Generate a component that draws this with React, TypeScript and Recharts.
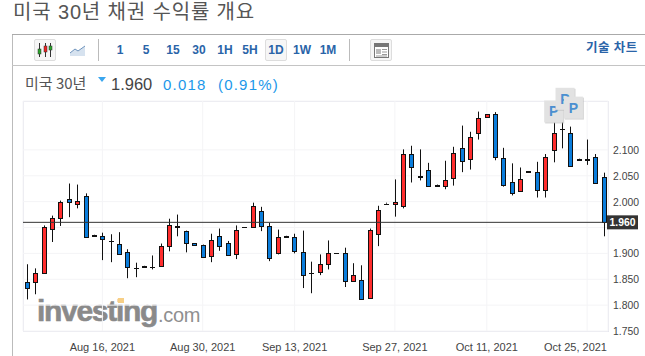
import React from 'react';
import { ComposedChart, Bar, XAxis, YAxis, CartesianGrid, ReferenceLine, ReferenceDot } from 'recharts';

const dates = [
    'Aug 5, 2021', 'Aug 6, 2021', 'Aug 8, 2021', 'Aug 9, 2021', 'Aug 10, 2021', 'Aug 11, 2021', 'Aug 12, 2021', 'Aug 13, 2021', 'Aug 15, 2021', 'Aug 16, 2021',
    'Aug 17, 2021', 'Aug 18, 2021', 'Aug 19, 2021', 'Aug 20, 2021', 'Aug 22, 2021', 'Aug 23, 2021', 'Aug 24, 2021', 'Aug 25, 2021', 'Aug 26, 2021', 'Aug 27, 2021',
    'Aug 29, 2021', 'Aug 30, 2021', 'Aug 31, 2021', 'Sep 1, 2021', 'Sep 2, 2021', 'Sep 3, 2021', 'Sep 5, 2021', 'Sep 7, 2021', 'Sep 8, 2021', 'Sep 9, 2021',
    'Sep 10, 2021', 'Sep 12, 2021', 'Sep 13, 2021', 'Sep 14, 2021', 'Sep 15, 2021', 'Sep 16, 2021', 'Sep 17, 2021', 'Sep 19, 2021', 'Sep 20, 2021', 'Sep 21, 2021',
    'Sep 22, 2021', 'Sep 23, 2021', 'Sep 24, 2021', 'Sep 26, 2021', 'Sep 27, 2021', 'Sep 28, 2021', 'Sep 29, 2021', 'Sep 30, 2021', 'Oct 1, 2021', 'Oct 3, 2021',
    'Oct 4, 2021', 'Oct 5, 2021', 'Oct 6, 2021', 'Oct 7, 2021', 'Oct 8, 2021', 'Oct 11, 2021', 'Oct 12, 2021', 'Oct 13, 2021', 'Oct 14, 2021', 'Oct 15, 2021',
    'Oct 17, 2021', 'Oct 18, 2021', 'Oct 19, 2021', 'Oct 20, 2021', 'Oct 21, 2021', 'Oct 22, 2021', 'Oct 24, 2021', 'Oct 25, 2021', 'Oct 26, 2021', 'Oct 27, 2021',
];

const opens = [
    1.845, 1.845, 1.863, 1.948, 1.969, 2.005, 1.996, 2.011, 1.936, 1.934,
    1.924, 1.919, 1.903, 1.871, 1.876, 1.873, 1.876, 1.915, 1.952, 1.944,
    1.920, 1.917, 1.895, 1.934, 1.920, 1.899, 1.951, 1.951, 1.982, 1.953,
    1.901, 1.934, 1.932, 1.903, 1.863, 1.864, 1.880, 1.901, 1.901, 1.847,
    1.849, 1.813, 1.938, 1.996, 1.996, 1.992, 2.092, 2.049, 2.061, 2.033,
    2.030, 2.046, 2.104, 2.083, 2.133, 2.164, 2.169, 2.085, 2.038, 2.021,
    2.059, 2.058, 2.023, 2.100, 2.141, 2.133, 2.083, 2.083, 2.087, 2.048,
];
const closes = [
    1.834, 1.863, 1.951, 1.969, 1.999, 1.999, 2.001, 1.932, 1.935, 1.928,
    1.924, 1.899, 1.874, 1.871, 1.875, 1.873, 1.914, 1.955, 1.951, 1.920,
    1.917, 1.893, 1.926, 1.915, 1.897, 1.946, 1.951, 1.992, 1.953, 1.891,
    1.932, 1.933, 1.905, 1.859, 1.863, 1.880, 1.901, 1.901, 1.847, 1.859,
    1.812, 1.946, 1.984, 1.996, 1.999, 2.092, 2.067, 2.048, 2.030, 2.032,
    2.042, 2.094, 2.079, 2.125, 2.162, 2.169, 2.087, 2.033, 2.017, 2.044,
    2.058, 2.023, 2.087, 2.133, 2.141, 2.069, 2.082, 2.082, 2.036, 1.960,
];
const highs = [
    1.879, 1.871, 1.954, 1.973, 2.002, 2.035, 2.033, 2.016, 1.936, 1.940,
    1.937, 1.941, 1.908, 1.882, 1.876, 1.896, 1.919, 1.967, 1.975, 1.944,
    1.920, 1.917, 1.938, 1.948, 1.924, 1.954, 1.951, 1.998, 1.990, 1.959,
    1.946, 1.934, 1.938, 1.944, 1.884, 1.898, 1.925, 1.901, 1.911, 1.881,
    1.877, 1.948, 1.992, 1.998, 2.043, 2.101, 2.108, 2.101, 2.075, 2.033,
    2.079, 2.106, 2.147, 2.135, 2.174, 2.169, 2.173, 2.104, 2.074, 2.066,
    2.059, 2.077, 2.092, 2.153, 2.164, 2.145, 2.083, 2.120, 2.092, 2.056,
];
const lows = [
    1.811, 1.821, 1.862, 1.922, 1.953, 1.970, 1.987, 1.931, 1.935, 1.887,
    1.883, 1.899, 1.852, 1.854, 1.875, 1.869, 1.875, 1.904, 1.933, 1.902,
    1.917, 1.891, 1.883, 1.905, 1.897, 1.889, 1.951, 1.951, 1.943, 1.885,
    1.898, 1.933, 1.900, 1.833, 1.823, 1.858, 1.869, 1.901, 1.835, 1.846,
    1.810, 1.812, 1.914, 1.996, 1.971, 1.987, 2.037, 2.041, 2.030, 2.032,
    2.024, 2.031, 2.057, 2.062, 2.120, 2.164, 2.080, 2.029, 2.012, 2.021,
    2.058, 2.008, 2.008, 2.076, 2.103, 2.068, 2.082, 2.071, 2.036, 1.933,
];

const dateTicks = ['Aug 16, 2021', 'Aug 30, 2021', 'Sep 13, 2021', 'Sep 27, 2021', 'Oct 11, 2021', 'Oct 25, 2021'];
const priceTicks = [1.75, 1.8, 1.85, 1.9, 1.95, 2.0, 2.05, 2.1];
const visiblePriceLabels = [1.75, 1.8, 1.85, 1.9, 2.0, 2.05, 2.1];
const lastPrice = 1.96;
const intervals = ['1', '5', '15', '30', '1H', '5H', '1D', '1W', '1M'];
const intervalX = [120, 146, 173, 199, 225, 250, 276, 302, 328];
const eventDates = ['Oct 20, 2021', 'Oct 21, 2021', 'Oct 22, 2021'];
const eventPrices = [2.153, 2.164, 2.145];

const data = dates.map((date, i) => ({
    date,
    open: opens[i],
    close: closes[i],
    high: highs[i],
    low: lows[i],
}));

const UP = '#ff2d2d';
const DOWN = '#0a7ddc';
const GRID = '#f4f4f6';
const BLUE_TEXT = '#2a64a8';
const SANS = '"Liberation Sans", Arial, sans-serif';
const KR = '"Noto Sans CJK KR", sans-serif';

function Candle(props: any) {
    const { x, y, width, height, payload } = props;
    const { open, close, high, low } = payload;
    const range = high - low;
    const toY = (v: number) => (range === 0 ? y : y + ((high - v) / range) * height);
    const cx = Math.floor(x + width / 2) + 0.5;
    const top = Math.max(open, close);
    const bottom = Math.min(open, close);
    const y1 = Math.round(toY(top));
    const y2 = Math.round(toY(bottom));
    const hw = 2;
    let body;
    if (open === close) {
        body = <rect x={cx - 2.5} y={y1} width={5} height={1} fill="#111" />;
    } else if (y2 - y1 < 2) {
        body = <rect x={cx - 2.5} y={y1} width={5} height={2} fill="#111" />;
    } else {
        body = (
            <rect
                x={cx - hw}
                y={y1 + 0.5}
                width={hw * 2}
                height={y2 - y1}
                fill={close > open ? UP : DOWN}
                stroke="#111"
                strokeWidth={1}
            />
        );
    }
    return (
        <g>
            {range > 0 && <line x1={cx} x2={cx} y1={y} y2={y + height} stroke="#111" strokeWidth={1} />}
            {body}
        </g>
    );
}

function DateTick(props: any) {
    const { x, y, payload } = props;
    // last label would run off the plot, investing pulls it back in
    const last = payload.value === dateTicks[dateTicks.length - 1];
    return (
        <text x={last ? 607 : x} y={y} dy={4} textAnchor={last ? 'end' : 'middle'} fontSize={11} fontFamily={SANS} fill="#444">
            {payload.value}
        </text>
    );
}

function PriceTick(props: any) {
    const { x, y, payload } = props;
    if (!visiblePriceLabels.includes(payload.value)) return null;
    return (
        <text x={x} y={y} dy={4} dx={-6} fontSize={10.4} fontFamily={SANS} fill="#444">
            {payload.value.toFixed(3)}
        </text>
    );
}

function LastPriceLabel(props: any) {
    const { viewBox } = props;
    const right = viewBox.x + viewBox.width;
    return (
        <g>
            <rect x={right - 1} y={viewBox.y - 7} width={31} height={14} fill="#333" />
            <text x={right + 14.5} y={viewBox.y + 4} textAnchor="middle" fontSize={10.4} fontWeight="bold" fontFamily={SANS} fill="#fff">
                {lastPrice.toFixed(3)}
            </text>
        </g>
    );
}

function EventFlag(dx: number, dy: number) {
    return function Flag(props: any) {
        const { cx, cy } = props;
        const x = cx + dx;
        const y = cy + dy;
        return (
            <g>
                <rect x={x - 8.5} y={y + 1} width={19} height={22} fill="#bbb" fillOpacity={0.6} />
                <rect x={x - 9.5} y={y} width={19} height={22} fill="#e2e2e2" />
                <text x={x} y={y + 16} textAnchor="middle" fontSize={14} fontWeight="bold" fontFamily={SANS} fill="#4a8fd0">
                    P
                </text>
            </g>
        );
    };
}

const flagShapes = [EventFlag(0, -22), EventFlag(3, -29), EventFlag(3, -30)];

function Txt({ x, y, size, color, font = SANS, weight = 'normal', spacing = 0, center = false, stroke, children }: any) {
    return (
        <div
            style={{
                position: 'absolute',
                left: x,
                top: y,
                fontSize: size,
                lineHeight: '1',
                color,
                fontFamily: font,
                fontWeight: weight,
                letterSpacing: spacing,
                whiteSpace: 'nowrap',
                WebkitTextStroke: stroke,
                transform: center ? 'translateX(-50%)' : undefined,
            }}
        >
            {children}
        </div>
    );
}

function Box({ x, y, w, h, bg, border, radius = 0 }: any) {
    return (
        <div
            style={{
                position: 'absolute',
                left: x,
                top: y,
                width: w,
                height: h,
                background: bg,
                border,
                borderRadius: radius,
                boxSizing: 'border-box',
            }}
        />
    );
}

function Toolbar() {
    return (
        <>
            <Box x={12} y={34} w={1} h={322} bg="#bbb" />
            <Box x={12} y={34} w={633} h={1} bg="#aaa" />
            <Box x={12} y={65} w={633} h={1} bg="#c4c4c4" />
            <Box x={34} y={39} w={22} h={22} bg="#f6f6f6" border="1px solid #ddd" radius={2} />
            <svg style={{ position: 'absolute', left: 36, top: 41 }} width={18} height={18}>
                <path d="M3.5 2v14M9.5 2v14M14.5 2v14" stroke="#333" />
                <rect x={2} y={8} width={3} height={5} fill="#2aa52a" stroke="#333" strokeWidth={0.5} />
                <rect x={8} y={5} width={3} height={6} fill="#e22" stroke="#333" strokeWidth={0.5} />
                <rect x={13} y={5} width={3} height={4} fill="#2aa52a" stroke="#333" strokeWidth={0.5} />
            </svg>
            <svg style={{ position: 'absolute', left: 69, top: 44 }} width={17} height={13}>
                <path d="M1 9L6 5L9 7L16 2V12H1Z" fill="#d6e2ef" />
                <path d="M1 9L6 5L9 7L16 2" stroke="#6f94bd" fill="none" />
            </svg>
            <Box x={98} y={39} w={1} h={22} bg="#bbb" />
            <Box x={265} y={39} w={22} h={22} bg="#f6f6f6" border="1px solid #ddd" radius={2} />
            {intervals.map((label, i) => (
                <Txt key={label} x={intervalX[i]} y={44} size={12} weight="bold" color={BLUE_TEXT} center>
                    {label}
                </Txt>
            ))}
            <Box x={349} y={39} w={1} h={22} bg="#bbb" />
            <Box x={370} y={39} w={22} h={22} bg="#f6f6f6" border="1px solid #ddd" radius={2} />
            <svg style={{ position: 'absolute', left: 374, top: 43 }} width={15} height={15}>
                <rect x={0.5} y={0.5} width={14} height={14} fill="#fff" stroke="#777" />
                <rect x={1} y={1} width={13} height={3} fill="#777" />
                <rect x={2} y={6} width={5} height={5} fill="#bbb" />
                <path d="M8 6.5h5M8 9h5M8 11.5h5M2 13h11" stroke="#999" />
            </svg>
            <Txt x={586} y={41} size={12.5} weight="bold" font={KR} color={BLUE_TEXT} spacing={0.6}>
                기술 차트
            </Txt>
        </>
    );
}

function Watermark() {
    return (
        <>
            <Txt x={37} y={296} size={30} weight="bold" color="#8a8a8a" spacing={-1.3} stroke="0.6px #8a8a8a">
                investing
            </Txt>
            <Txt x={158} y={305} size={20} color="#8f8f8f" spacing={-0.3}>
                .com
            </Txt>
            <Box x={118} y={298} w={6} h={5} bg="#f7cf86" />
        </>
    );
}

export default function App() {
    return (
        <div style={{ position: 'absolute', left: 0, top: 0, width: 645, height: 356, overflow: 'hidden', background: '#fff' }}>
            <Txt x={13} y={2} size={20} font={`"Liberation Sans", ${KR}`} color="#555" spacing={0.85}>
                미국 30년 채권 수익률 개요
            </Txt>
            <Toolbar />
            <Txt x={25} y={75} size={15} font={KR} color="#555">
                미국 30년
            </Txt>
            <svg style={{ position: 'absolute', left: 98, top: 77 }} width={8} height={5}>
                <path d="M0 0H8L4 5Z" fill="#3aa6ee" />
            </svg>
            <Txt x={111} y={76} size={16.5} color="#444">
                1.960
            </Txt>
            <Txt x={163} y={77} size={15} color="#1b98ea" spacing={1.2}>
                0.018
            </Txt>
            <Txt x={218} y={77} size={15} color="#1b98ea" spacing={1.2}>
                (0.91%)
            </Txt>
            <Box x={23} y={101} w={586} h={231} border="1px solid #e6e6ef" />
            <Watermark />
            <div style={{ position: 'absolute', left: 0, top: 0 }}>
                <ComposedChart
                    width={645}
                    height={356}
                    data={data}
                    barSize={5}
                    margin={{ top: 101, right: 0, left: 23, bottom: 24 }}
                >
                    <CartesianGrid stroke={GRID} />
                    <XAxis
                        dataKey="date"
                        ticks={dateTicks}
                        interval={0}
                        tick={DateTick}
                        axisLine={false}
                        tickLine={false}
                        height={1}
                        tickMargin={10}
                    />
                    <YAxis
                        orientation="right"
                        domain={[1.75, 2.1945]}
                        ticks={priceTicks}
                        interval={0}
                        tick={PriceTick}
                        axisLine={false}
                        tickLine={false}
                        width={37}
                        tickMargin={5}
                    />
                    <ReferenceLine y={lastPrice} stroke="#333" strokeWidth={1} label={LastPriceLabel} />
                    <Bar dataKey={(d: any) => [d.low, d.high]} shape={Candle} isAnimationActive={false} />
                    {eventDates.map((date, i) => (
                        <ReferenceDot key={date} x={date} y={eventPrices[i]} shape={flagShapes[i]} ifOverflow="visible" />
                    ))}
                </ComposedChart>
            </div>
        </div>
    );
}
